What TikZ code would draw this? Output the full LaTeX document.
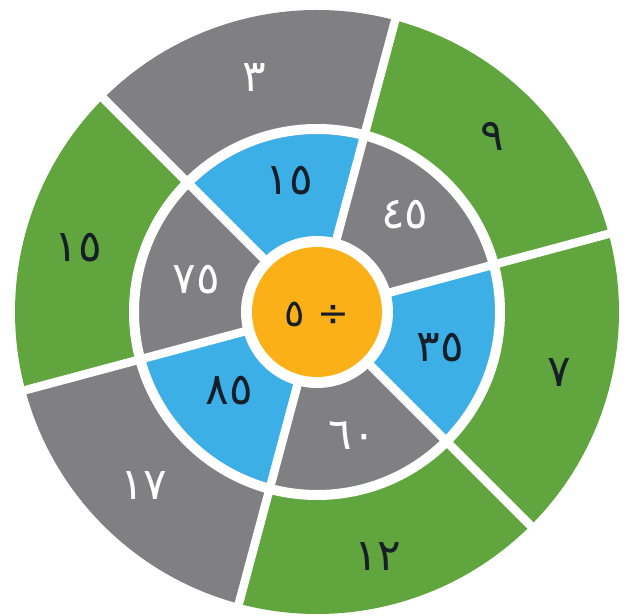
\documentclass[tikz,border=0pt]{standalone}
\usepackage{fontspec}
\TeXXeTstate=1
\newfontfamily\arabicfont[Script=Arabic]{DejaVu Sans}
\definecolor{wgray}{RGB}{128,128,131}
\definecolor{wgreen}{RGB}{96,165,62}
\definecolor{wblue}{RGB}{60,176,230}
\definecolor{worange}{RGB}{252,176,24}
\definecolor{wdark}{RGB}{22,30,40}
\tikzset{
  divider/.style={white, line width=8.5pt},
  ringgap/.style={white, line width=10pt},
  lab/.style={font=\arabicfont\fontsize{44}{44}\selectfont, inner sep=0pt, anchor=center},
  darklab/.style={lab, text=wdark},
  lightlab/.style={lab, text=white},
  ctrlab/.style={darklab, font=\arabicfont\fontsize{38}{38}\selectfont},
}
\newcommand{\annsec}[4]{% color, start, end, radius
  \fill[#1] (0,0) -- (#2:#4) arc[start angle=#2, end angle=#3, radius=#4] -- cycle;}
\begin{document}
\begin{tikzpicture}[x=1pt,y=1pt]
\useasboundingbox (0,0) rectangle (627,616);
\begin{scope}[shift={(317,304)}]
  \coordinate (C) at (0,0);
  % outer ring
  \annsec{wgreen}{15}{75}{302}
  \annsec{wgray}{75}{135}{302}
  \annsec{wgreen}{135}{195}{302}
  \annsec{wgray}{195}{255}{302}
  \annsec{wgreen}{255}{315}{302}
  \annsec{wgreen}{315}{375}{302}
  % inner ring
  \annsec{wgray}{15}{75}{178}
  \annsec{wblue}{75}{135}{178}
  \annsec{wgray}{135}{195}{178}
  \annsec{wblue}{195}{255}{178}
  \annsec{wgray}{255}{315}{178}
  \annsec{wblue}{315}{375}{178}
  % gap between rings
  \draw[ringgap] (C) circle[radius=183];
  % dividers
  \foreach \a in {15,75,135,195,255,315}
    \draw[divider] (C) -- (\a:306);
  % centre
  \fill[white] (C) circle[radius=76];
  \fill[worange] (C) circle[radius=65];
  % labels outer
  \node[lightlab] (o3)  at (105:243) {٣};
  \node[darklab]  (o9)  at (45:248)  {٩};
  \node[darklab]  (o7)  at (-14:250) {٧};
  \node[darklab]  (o12) at (-76:252) {١٢};
  \node[lightlab] (o17) at (225:245) {١٧};
  \node[darklab]  (o15) at (165:247) {١٥};
  % labels inner
  \node[darklab]  (i15) at (102:134) {١٥};
  \node[lightlab] (i45) at (48:131)  {٤٥};
  \node[darklab]  (i35) at (-16:128) {٣٥};
  \node[lightlab] (i60) at (-74:128) {٦٠};
  \node[darklab]  (i85) at (222:118) {٨٥};
  \node[lightlab] (i75) at (165:125) {٧٥};
  % centre label
  \node[ctrlab] (ctr) at (0,-2) {\beginR ÷ ٥\endR};
\end{scope}
\end{tikzpicture}
\end{document}
